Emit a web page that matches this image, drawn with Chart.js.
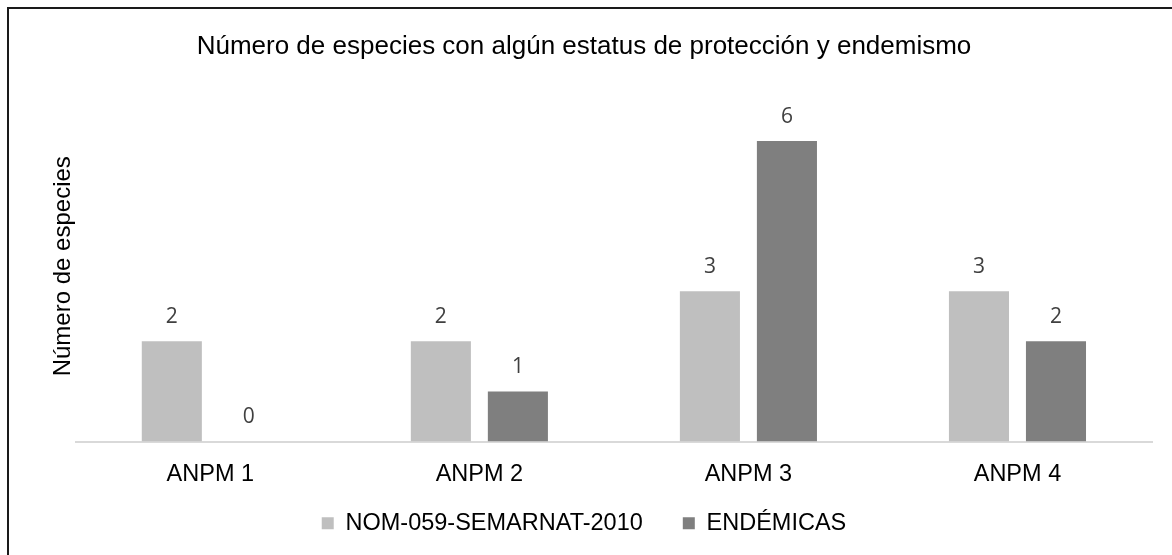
<!DOCTYPE html>
<html>
<head>
<meta charset="utf-8">
<script src="https://cdn.jsdelivr.net/npm/chart.js@4"></script>
<style>
  html, body { margin: 0; padding: 0; background: #fff; }
  #wrap { position: relative; width: 1172px; height: 555px; overflow: hidden; }
  #frame {
    position: absolute; left: 7px; top: 7px; width: 1200px; height: 600px;
    border-top: 2px solid #1a1a1a; border-left: 2px solid #1a1a1a;
  }
  canvas { position: absolute; left: 0; top: 0; }
</style>
</head>
<body>
<div id="wrap">
  <div id="frame"></div>
  <canvas id="chart" width="1172" height="555"></canvas>
</div>
<script>
/* ========= DATA ========= */
const categories = ["ANPM 1", "ANPM 2", "ANPM 3", "ANPM 4"];
const nomValues  = [2, 2, 3, 3];
const endValues  = [0, 1, 6, 2];
const seriesNames = ["NOM-059-SEMARNAT-2010", "ENDÉMICAS"];
const chartTitle = "Número de especies con algún estatus de protección y endemismo";
const yTitle     = "Número de especies";

const ARIAL = "'Liberation Sans', Arial, sans-serif";

/* ========= VALUE LABELS ========= */
const valueLabels = {
  id: "valueLabels",
  afterDatasetsDraw(chart){
    const ctx = chart.ctx;
    ctx.save();
    ctx.font = "21px 'Open Sans', sans-serif";
    ctx.fillStyle = "#404040";
    ctx.textAlign = "center";
    ctx.textBaseline = "middle";
    chart.data.datasets.forEach((ds, i) => {
      chart.getDatasetMeta(i).data.forEach((bar, j) => {
        ctx.fillText(String(ds.data[j]), bar.x, bar.y - 24);
      });
    });
    ctx.restore();
  }
};

// pull the legend a bit closer to the category labels (wide item spacing, tight rows)
const legendNudge = {
  id: "legendNudge",
  afterUpdate(chart){
    const lg = chart.legend;
    if(!lg) return;
    lg.top -= 36;
    lg.bottom -= 36;
    lg.adjustHitBoxes();
  }
};

/* ========= CHART ========= */
new Chart(document.getElementById("chart"), {
  type: "bar",
  data: {
    labels: categories,
    datasets: [
      { label: seriesNames[0], data: nomValues, backgroundColor: "#bfbfbf" },
      { label: seriesNames[1], data: endValues, backgroundColor: "#7f7f7f" }
    ]
  },
  options: {
    responsive: false,
    animation: false,
    devicePixelRatio: 1,
    layout: { padding: { left: 16, right: 20, top: 0, bottom: -26 } },
    datasets: { bar: { categoryPercentage: 0.5725, barPercentage: 0.78 } },
    plugins: {
      title: {
        display: true,
        text: chartTitle,
        color: "#000",
        font: { family: ARIAL, size: 26, weight: "normal", lineHeight: 1.2 },
        padding: { top: 31.4, bottom: 28.4 }
      },
      legend: {
        position: "bottom",
        labels: {
          color: "#000",
          font: { family: ARIAL, size: 23.5, lineHeight: 1.2 },
          boxWidth: 12, boxHeight: 12,
          padding: 40
        }
      },
      tooltip: { enabled: false }
    },
    scales: {
      x: {
        grid: { display: false, drawTicks: false },
        border: { display: true, color: "#d9d9d9", width: 2 },
        ticks: { color: "#000", font: { family: ARIAL, size: 23.5 }, padding: 18.9, maxRotation: 0 }
      },
      y: {
        min: 0, max: 7,
        grid: { display: false, drawTicks: false },
        border: { display: false },
        ticks: { display: false },
        title: {
          display: true,
          text: yTitle,
          color: "#000",
          font: { family: ARIAL, size: 24, lineHeight: 1.2 },
          padding: { top: 33, bottom: 0 }
        },
        afterFit: (scale) => { scale.width = 59.8; }
      }
    }
  },
  plugins: [valueLabels, legendNudge]
});
</script>
</body>
</html>
